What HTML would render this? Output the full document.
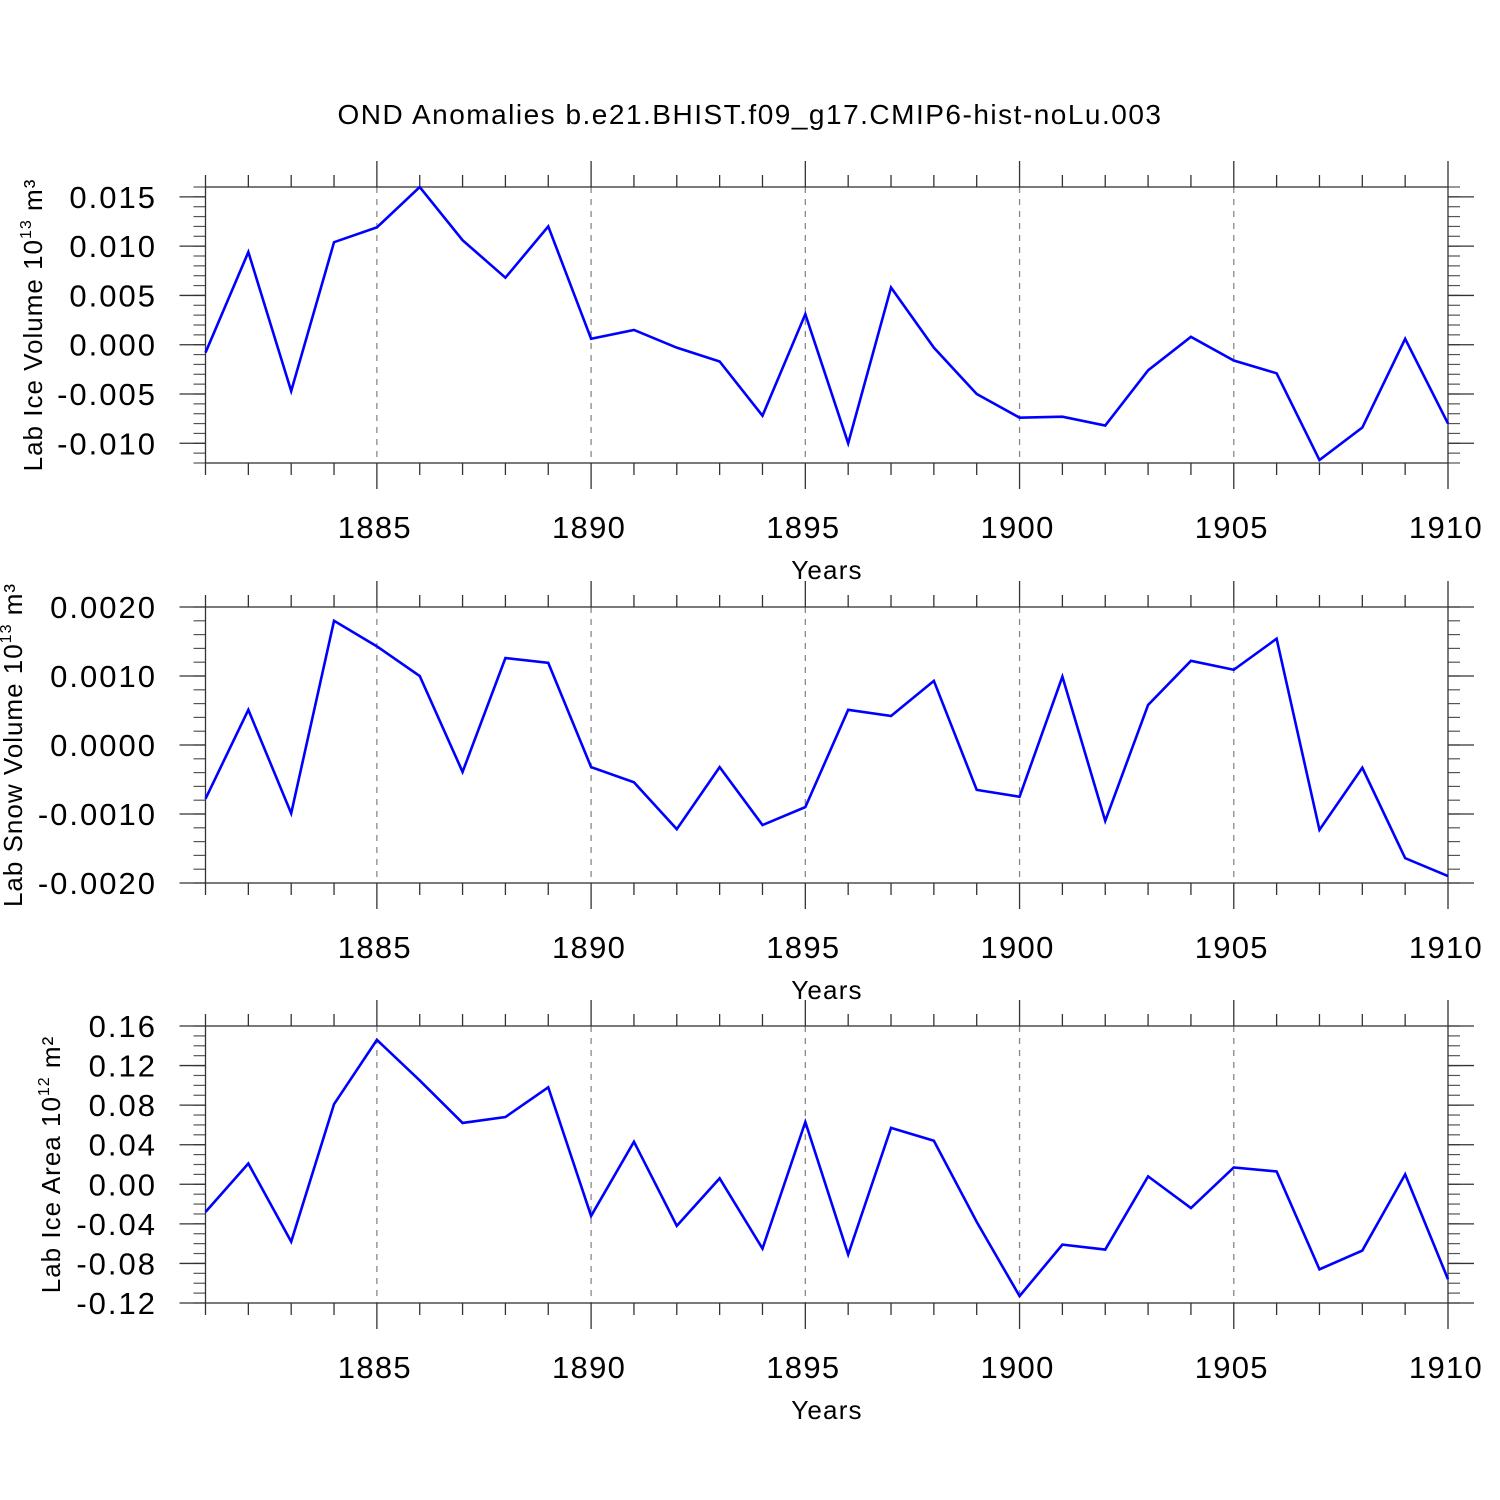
<!DOCTYPE html>
<html><head><meta charset="utf-8"><style>body{margin:0;background:#fff}svg{display:block}text{font-family:"Liberation Sans",sans-serif;fill:#000}</style></head>
<body>
<svg id="c" width="1500" height="1500" viewBox="0 0 1500 1500">
<text x="750" y="124" font-size="28" letter-spacing="1.5" text-anchor="middle">OND Anomalies b.e21.BHIST.f09_g17.CMIP6-hist-noLu.003</text>
</svg>
<script>
const years = [];
for (let y = 1881; y <= 1910; y++) years.push(y);
const iceVolume = [-0.0008,0.0094,-0.0047,0.0104,0.0119,0.016,0.0106,0.0068,0.012,0.0006,0.0015,-0.0003,-0.0017,-0.0072,0.0031,-0.010,0.0058,-0.0003,-0.005,-0.0074,-0.0073,-0.0082,-0.0026,0.0008,-0.0016,-0.0029,-0.0117,-0.0084,0.0006,-0.008];
const snowVolume = [-0.00078,0.00051,-0.00099,0.0018,0.00143,0.001,-0.00039,0.00126,0.00119,-0.00032,-0.00054,-0.00122,-0.00032,-0.00116,-0.0009,0.00051,0.00042,0.00093,-0.00065,-0.00075,0.00099,-0.0011,0.00058,0.00122,0.00109,0.00154,-0.00123,-0.00033,-0.00164,-0.0019];
const iceArea = [-0.028,0.021,-0.058,0.081,0.146,0.105,0.062,0.068,0.098,-0.032,0.043,-0.042,0.006,-0.065,0.063,-0.071,0.057,0.044,-0.038,-0.113,-0.061,-0.066,0.008,-0.024,0.017,0.013,-0.086,-0.067,0.010,-0.096];
const xTickYears = [1885,1890,1895,1900,1905,1910];
const ticks1 = [0.015,0.010,0.005,0.000,-0.005,-0.010];
const ticks1Labels = ["0.015","0.010","0.005","0.000","-0.005","-0.010"];
const ticks2 = [0.002,0.001,0,-0.001,-0.002];
const ticks2Labels = ["0.0020","0.0010","0.0000","-0.0010","-0.0020"];
const ticks3 = [0.16,0.12,0.08,0.04,0,-0.04,-0.08,-0.12];
const ticks3Labels = ["0.16","0.12","0.08","0.04","0.00","-0.04","-0.08","-0.12"];

const svg = document.getElementById('c');
const NS = 'http://www.w3.org/2000/svg';
function mk(tag, attrs, parent){const e=document.createElementNS(NS,tag);for(const k in attrs)e.setAttribute(k,attrs[k]);(parent||svg).appendChild(e);return e;}
const X0=205.5, X1=1448, Y0=1881, Y1=1910;
const xs = v => X0+(v-Y0)/(Y1-Y0)*(X1-X0);

function panel(name, top, bot, ymin, ymax, data, ticks, labels, minorStep, ylabel, exp, unit){
  const g = mk('g',{});
  
  
  const ys = v => bot-(v-ymin)/(ymax-ymin)*(bot-top);
  xTickYears.slice(0,-1).forEach(yr=>{
    const l=mk('line',{x1:xs(yr),x2:xs(yr),y1:top,y2:bot,stroke:'#888','stroke-width':1.3,'stroke-dasharray':'6,6'},g);
    
    
  });
  years.forEach(yr=>{
    const major = xTickYears.includes(yr);
    const len = major?26:12;
    mk('line',{x1:xs(yr),x2:xs(yr),y1:top,y2:top-len,stroke:'#333','stroke-width':1.3},g);
    mk('line',{x1:xs(yr),x2:xs(yr),y1:bot,y2:bot+len,stroke:'#333','stroke-width':1.3},g);
  });
  xTickYears.forEach(yr=>{
    const t=mk('text',{x:xs(yr)-2,y:bot+75,'font-size':31,'letter-spacing':1.3,'text-anchor':'middle'},g);
    t.textContent=yr;
    
    
  });
  const xt=mk('text',{x:827,y:bot+116,'font-size':26,'letter-spacing':1.2,'text-anchor':'middle'},g);
  xt.textContent='Years';
  
  
  const n=Math.round((ymax-ymin)/minorStep);
  for(let i=0;i<=n;i++){
    const v=ymin+i*minorStep, y=ys(v);
    mk('line',{x1:X0,x2:X0-12,y1:y,y2:y,stroke:'#555','stroke-width':1.2},g);
    mk('line',{x1:X1,x2:X1+12,y1:y,y2:y,stroke:'#555','stroke-width':1.2},g);
  }
  ticks.forEach((v,i)=>{
    const y=ys(v);
    mk('line',{x1:X0,x2:X0-26,y1:y,y2:y,stroke:'#333','stroke-width':1.3},g);
    mk('line',{x1:X1,x2:X1+26,y1:y,y2:y,stroke:'#333','stroke-width':1.3},g);
    const t=mk('text',{x:157,y:y+11,'font-size':31,'letter-spacing':2,'text-anchor':'end'},g);
    t.textContent=labels[i];
    
    
  });
  mk('rect',{x:X0,y:top,width:X1-X0,height:bot-top,fill:'none',stroke:'#333','stroke-width':1.3},g);
  const pts=data.map((v,i)=>xs(years[i])+','+ys(v)).join(' ');
  const pl=mk('polyline',{points:pts,fill:'none',stroke:'#0000ff','stroke-width':2.6,'stroke-linejoin':'miter'},g);
  
  
  const cy=(top+bot)/2;
  const yl=mk('text',{transform:`translate(${ylabel.x},${cy}) rotate(-90)`,'font-size':26,'letter-spacing':1,'text-anchor':'middle'},g);
  
  
  const s1=mk('tspan',{},yl); s1.textContent=ylabel.text+' 10';
  const s2=mk('tspan',{dy:-11,'font-size':16},yl); s2.textContent=exp;
  const s3=mk('tspan',{dy:11},yl); s3.textContent=' '+unit;
}
panel('ice-volume',187,463,-0.012,0.016,iceVolume,ticks1,ticks1Labels,0.001,{x:42,text:'Lab Ice Volume'},'13','m³');
panel('snow-volume',607,883,-0.002,0.002,snowVolume,ticks2,ticks2Labels,0.0002,{x:22,text:'Lab Snow Volume'},'13','m³');
panel('ice-area',1026,1303,-0.12,0.16,iceArea,ticks3,ticks3Labels,0.01,{x:60,text:'Lab Ice Area'},'12','m²');
</script>
</body></html>
